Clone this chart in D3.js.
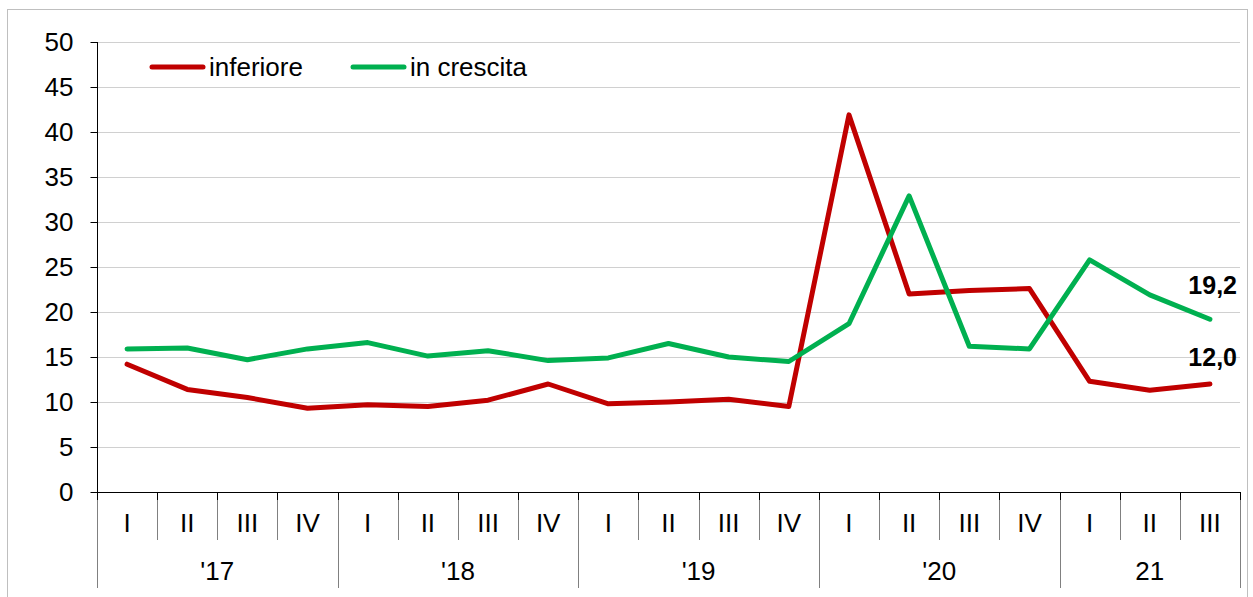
<!DOCTYPE html>
<html><head><meta charset="utf-8">
<script src="https://cdn.jsdelivr.net/npm/d3@7"></script>
<style>body{margin:0;background:#fff}svg{display:block;font-family:"Liberation Sans",Arial,sans-serif}</style>
</head><body><svg id="c" width="1253" height="597"></svg>
<script>
const quarters = ["I","II","III","IV","I","II","III","IV","I","II","III","IV","I","II","III","IV","I","II","III"];
const years = [{label:"'17",n:4},{label:"'18",n:4},{label:"'19",n:4},{label:"'20",n:4},{label:"21",n:3}];
const inferiore = [14.2,11.4,10.5,9.3,9.7,9.5,10.2,12.0,9.8,10.0,10.3,9.5,41.9,22.0,22.4,22.6,12.3,11.3,12.0];
const inCrescita = [15.9,16.0,14.7,15.9,16.6,15.1,15.7,14.6,14.9,16.5,15.0,14.5,18.7,32.9,16.2,15.9,25.8,21.9,19.2];
const yTicks = [0,5,10,15,20,25,30,35,40,45,50];
const seriesNames = ["inferiore","in crescita"];
const colors = ["#C00000","#00B050"];
const endLabels = ["12,0","19,2"];

const FS = 26;
const svg = d3.select("#c");
const L=97, R=1240, T=42, B=492;
const idx = d3.range(quarters.length);
const x = d3.scaleBand().domain(idx).range([L,R]);
const y = d3.scaleLinear().domain([0,50]).range([B,T]);

// frame
svg.append("rect").attr("x",7.5).attr("y",9.5).attr("width",1240).attr("height",600)
  .attr("fill","none").attr("stroke","#BFBFBF").attr("stroke-width",1);

// grid
svg.append("g").selectAll("line").data(yTicks.filter(d=>d>0)).join("line")
  .attr("x1",L).attr("x2",R).attr("y1",d=>Math.round(y(d))+0.5).attr("y2",d=>Math.round(y(d))+0.5)
  .attr("stroke","#D0D0D0").attr("stroke-width",1);

// y axis
const ya = svg.append("g").attr("transform",`translate(${L+0.5},0)`)
  .call(d3.axisLeft(y).tickValues(yTicks).tickSize(7).tickPadding(17).tickFormat(d3.format("d")));
ya.select(".domain").attr("stroke","#000").attr("d",`M0,${T}V${B}`);
ya.selectAll(".tick line").attr("stroke","#000");
ya.selectAll(".tick text").attr("font-size",FS).attr("fill","#000").attr("font-family","Liberation Sans, Arial, sans-serif");

// x axis separators
const sepG = svg.append("g");
let boundaries = idx.map(i=>x(i)).concat([R]);
let yearStarts = new Set(); let acc=0; years.forEach(yr=>{yearStarts.add(acc); acc+=yr.n;}); yearStarts.add(acc);
boundaries.forEach((bx,i)=>{
  const isYear = yearStarts.has(i);
  const xx = Math.round(bx)+0.5;
  sepG.append("line").attr("x1",xx).attr("x2",xx).attr("y1",B).attr("y2",isYear?588:540)
    .attr("stroke","#808080").attr("stroke-width",1);
  sepG.append("line").attr("x1",xx).attr("x2",xx).attr("y1",B).attr("y2",B+8)
    .attr("stroke","#000").attr("stroke-width",1);
});
svg.append("line").attr("x1",L).attr("x2",R).attr("y1",B+0.5).attr("y2",B+0.5).attr("stroke","#000");

svg.append("g").selectAll("text").data(idx).join("text")
  .attr("x",i=>x(i)+x.bandwidth()/2).attr("y",532).attr("text-anchor","middle")
  .attr("font-size",FS).text(i=>quarters[i]);

acc=0;
years.forEach(yr=>{
  const x0 = x(acc), x1 = (acc+yr.n<quarters.length)? x(acc+yr.n) : R;
  svg.append("text").attr("x",(x0+x1)/2).attr("y",580).attr("text-anchor","middle")
    .attr("font-size",FS).text(yr.label);
  acc+=yr.n;
});

// lines
const line = d3.line().x((d,i)=>x(i)+x.bandwidth()/2).y(d=>y(d));
[inferiore,inCrescita].forEach((s,k)=>{
  svg.append("path").datum(s).attr("d",line).attr("fill","none")
    .attr("stroke",colors[k]).attr("stroke-width",5).attr("stroke-linejoin","round").attr("stroke-linecap","round");
});

// end labels
const last = quarters.length-1;
svg.append("text").attr("x",1237).attr("y",y(inferiore[last])-18).attr("text-anchor","end")
  .attr("font-size",25).attr("font-weight","bold").text(endLabels[0]);
svg.append("text").attr("x",1237).attr("y",y(inCrescita[last])-25).attr("text-anchor","end")
  .attr("font-size",25).attr("font-weight","bold").text(endLabels[1]);

// legend
const leg = [{x:150,tx:209},{x:351,tx:410}];
seriesNames.forEach((n,k)=>{
  svg.append("line").attr("x1",leg[k].x+2).attr("x2",leg[k].x+53).attr("y1",67).attr("y2",67)
    .attr("stroke",colors[k]).attr("stroke-width",5).attr("stroke-linecap","round");
  svg.append("text").attr("x",leg[k].tx).attr("y",76).attr("font-size",FS).text(n);
});
</script></body></html>
